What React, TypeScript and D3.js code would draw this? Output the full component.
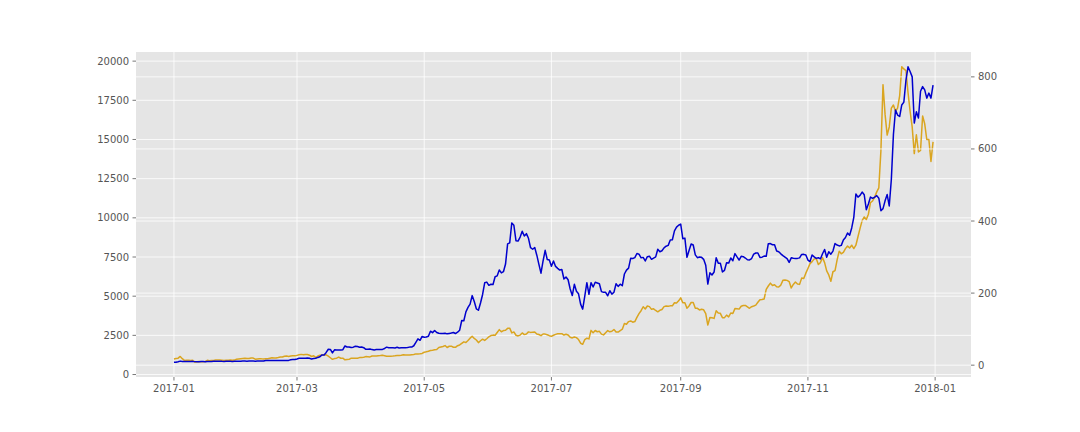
import React from "react";
import * as d3 from "d3";

// Daily closes, 2017-01-01 .. 2017-12-31
const START_DATE = "2017-01-01";

// Left axis series (orange)
const btcJan = [998,1021,1043,1154,1013,902,909,911,902,907,785,812,827,818,822,831,907,886,899,896,923,925,921,916,892,915,918,920,914,921,970];
const btcFeb = [989,1009,1030,1040,1016,1025,1051,1052,977,995,1012,1001,998,1009,1010,1039,1064,1057,1057,1085,1117,1120,1171,1177,1150,1179,1196,1191];
const btcMar = [1223,1258,1286,1264,1274,1278,1234,1151,1193,1098,1180,1234,1244,1246,1256,1172,1072,970,1017,1044,1115,1039,1041,939,964,967,1045,1046,1039,1037,1080];
const btcApr = [1089,1099,1143,1133,1124,1182,1190,1181,1205,1208,1223,1203,1169,1168,1170,1180,1193,1211,1218,1231,1257,1252,1250,1247,1265,1281,1317,1317,1321,1347];
const btcMay = [1421,1452,1490,1537,1555,1578,1596,1723,1755,1787,1848,1724,1804,1808,1739,1734,1839,1888,1987,2084,2041,2173,2320,2443,2304,2202,2038,2155,2255,2175,2286];
const btcJun = [2407,2488,2515,2511,2686,2863,2732,2805,2823,2947,2958,2659,2717,2506,2464,2518,2655,2548,2589,2721,2689,2706,2712,2589,2553,2480,2589,2579,2535,2480];
const btcJul = [2434,2506,2564,2601,2601,2608,2518,2571,2518,2373,2337,2398,2357,2233,1998,1929,2229,2318,2274,2817,2668,2810,2731,2755,2576,2530,2671,2809,2726,2758,2875];
const btcAug = [2718,2710,2805,2895,3252,3213,3378,3419,3342,3381,3651,3884,4073,4325,4181,4376,4331,4160,4193,4087,4001,4100,4151,4334,4371,4352,4382,4382,4579,4565,4703];
const btcSep = [4892,4578,4582,4236,4376,4597,4599,4228,4226,4122,4162,4130,3882,3154,3637,3625,3582,4065,3924,3905,3631,3630,3792,3682,3926,3892,4208,4195,4174,4360];
const btcOct = [4403,4409,4317,4229,4328,4370,4426,4610,4773,4782,4820,5430,5650,5833,5678,5725,5605,5590,5709,6011,6031,6008,5930,5527,5750,5904,5780,5753,6153,6130,6468];
const btcNov = [6767,7078,7207,7379,7407,7022,7144,7459,7143,6618,6357,5950,6559,6635,7315,7871,7708,7790,8036,8200,8071,8253,8038,8253,8790,9330,9819,10058,9888,10233];
const btcDec = [10975,11074,11323,11657,11916,14291,18500,16600,15280,15800,17000,17200,16800,17000,17800,19640,19500,19400,18000,16800,15800,14100,15300,14200,14300,16500,16000,15000,15000,13600,14850];

// Right axis series (blue)
const ethJan = [8.17,8.38,9.73,11.25,10.25,10.25,9.86,10.29,10.31,10.55,9.84,9.79,9.78,9.88,9.86,9.6,10.16,10.5,10.36,10.66,10.95,10.78,10.81,10.54,10.53,10.57,10.54,10.59,10.52,10.62,10.71];
const ethFeb = [10.74,10.74,11.38,11.3,11.1,11.33,11.46,11.36,11.16,11.39,11.45,11.4,11.39,13.15,13.03,12.94,12.76,12.77,12.72,12.62,12.76,12.7,13.12,13.14,13.27,15.03,15.65,15.88];
const ethMar = [17.3,19.0,19.4,18.9,19.4,19.9,19.3,16.9,18.3,19.3,21.5,23.5,28.5,28.5,35.4,44.1,43.8,33.9,42.5,42.2,42.2,41.8,43.0,53.3,50.5,50.6,48.8,50.0,52.6,52.0,49.9];
const ethApr = [50.6,48.5,44.1,44.4,45.1,43.2,42.3,43.3,43.8,43.7,43.7,46.4,50.0,48.1,48.3,48.3,47.8,49.6,47.9,48.5,48.6,48.3,49.0,50.1,50.3,53.9,63.3,72.9,69.0,79.8];
const ethMay = [77.5,78.0,80.3,94.3,90.3,96.0,90.5,88.4,88.2,87.8,88.7,86.9,88.0,89.2,90.7,87.8,91.4,97.1,124.0,123.3,148.0,160.4,169.5,193.0,176.8,156.4,152.4,172.6,196.2,228.6,230.5];
const ethJun = [221.5,224.5,224.0,245.2,247.8,264.3,255.9,259.4,280.6,336.6,339.3,394.7,388.0,345.5,344.3,355.4,371.4,358.5,365.0,352.0,325.9,321.7,326.6,305.2,279.9,255.3,289.1,318.6,293.2,291.6];
const ethJul = [274.4,289.1,274.0,268.7,263.9,265.5,239.2,244.6,237.1,211.4,193.2,224.5,205.0,198.1,169.3,155.4,191.3,228.8,196.8,228.9,217.0,230.2,228.1,225.9,204.1,202.1,202.3,192.5,206.7,197.2,202.5];
const ethAug = [225.9,218.6,224.6,220.4,253.0,263.8,269.3,296.5,296.0,298.3,309.9,307.9,298.0,299.1,289.1,301.0,302.5,293.7,297.2,300.4,321.6,314.8,317.5,325.6,330.1,332.4,347.6,347.9,372.7,383.0,388.3];
const ethSep = [391.4,351.0,352.5,299.2,318.0,336.1,333.4,306.1,298.3,299.9,299.2,293.6,277.3,224.9,256.3,250.1,258.4,297.8,283.1,283.1,258.7,263.2,284.0,283.2,297.3,289.6,309.5,300.4,291.8,302.0];
const ethOct = [301.1,297.3,292.6,292.1,295.9,308.1,311.3,311.2,299.0,299.6,302.7,302.0,337.2,337.4,334.2,334.3,316.7,314.8,308.9,303.8,299.8,295.9,285.0,297.8,296.4,296.3,296.3,297.7,307.3,307.5,305.9];
const ethNov = [291.7,287.4,305.7,300.5,296.3,298.3,294.7,309.1,320.9,299.3,314.7,307.9,316.7,337.6,333.4,330.9,332.4,347.6,354.4,366.7,360.4,380.7,410.2,474.9,466.3,471.3,480.4,472.9,431.5,447.1];
const ethDec = [466.5,463.0,465.9,470.5,463.3,428.6,434.4,456.0,473.5,441.7,515.1,640,708,694,690,722,730,790,828,815,800,672,703,686,760,773,764,741,755,741,777];

const leftTicks = [0, 2500, 5000, 7500, 10000, 12500, 15000, 17500, 20000];
const rightTicks = [0, 200, 400, 600, 800];
const xTickLabels = ["2017-01", "2017-03", "2017-05", "2017-07", "2017-09", "2017-11", "2018-01"];

const btc = [...btcJan, ...btcFeb, ...btcMar, ...btcApr, ...btcMay, ...btcJun, ...btcJul, ...btcAug, ...btcSep, ...btcOct, ...btcNov, ...btcDec];
const eth = [...ethJan, ...ethFeb, ...ethMar, ...ethApr, ...ethMay, ...ethJun, ...ethJul, ...ethAug, ...ethSep, ...ethOct, ...ethNov, ...ethDec];

const W = 1080;
const H = 432;
const PL = 136, PR = 971, PT = 52, PB = 377;
const DAY = 86400000;

function pad(ext: [number, number]): [number, number] {
  const m = (ext[1] - ext[0]) * 0.05;
  return [ext[0] - m, ext[1] + m];
}

export default function App() {
  const start = new Date(START_DATE + "T00:00:00Z").getTime();
  const dates = btc.map((_, i) => new Date(start + i * DAY));
  const tExt: [number, number] = [dates[0].getTime(), dates[dates.length - 1].getTime()];
  const tDom = pad(tExt);
  const x = d3.scaleUtc().domain([new Date(tDom[0]), new Date(tDom[1])]).range([PL, PR]);
  const yL = d3.scaleLinear().domain(pad(d3.extent(btc) as [number, number])).range([PB, PT]);
  const yR = d3.scaleLinear().domain(pad(d3.extent(eth) as [number, number])).range([PB, PT]);

  const lineL = d3.line<number>().x((_, i) => x(dates[i])).y((d) => yL(d));
  const lineR = d3.line<number>().x((_, i) => x(dates[i])).y((d) => yR(d));

  const xTickDates = xTickLabels.map((s) => new Date(s + "-01T00:00:00Z"));
  const font = "'DejaVu Sans', sans-serif";
  const tickColor = "#555555";

  return (
    <div style={{ position: "fixed", left: 0, top: 0 }}>
      <svg width={W} height={H} style={{ display: "block", background: "#ffffff" }}>
        <rect x={PL} y={PT} width={PR - PL} height={PB - PT} fill="#E5E5E5" />
        {/* left axis grid */}
        {leftTicks.map((t) => (
          <line key={"gl" + t} x1={PL} x2={PR} y1={yL(t)} y2={yL(t)} stroke="#ffffff" strokeWidth={0.8} />
        ))}
        {xTickDates.map((d, i) => (
          <line key={"gx" + i} x1={x(d)} x2={x(d)} y1={PT} y2={PB} stroke="#ffffff" strokeWidth={0.8} />
        ))}
        <path d={lineL(btc) || ""} fill="none" stroke="#DAA520" strokeWidth={1.5} strokeLinejoin="round" />
        {/* right axis grid */}
        {rightTicks.map((t) => (
          <line key={"gr" + t} x1={PL} x2={PR} y1={yR(t)} y2={yR(t)} stroke="#ffffff" strokeWidth={0.8} />
        ))}
        <path d={lineR(eth) || ""} fill="none" stroke="#0000CD" strokeWidth={1.5} strokeLinejoin="round" />

        {/* x axis ticks */}
        {xTickDates.map((d, i) => (
          <g key={"xt" + i}>
            <line x1={x(d)} x2={x(d)} y1={PB} y2={PB + 3.5} stroke={tickColor} strokeWidth={0.8} />
            <text x={x(d)} y={PB + 7} dy="0.76em" textAnchor="middle" fontFamily={font} fontSize={10} fill={tickColor}>
              {xTickLabels[i]}
            </text>
          </g>
        ))}
        {/* left ticks */}
        {leftTicks.map((t) => (
          <g key={"lt" + t}>
            <line x1={PL - 3.5} x2={PL} y1={yL(t)} y2={yL(t)} stroke={tickColor} strokeWidth={0.8} />
            <text x={PL - 7} y={yL(t)} dy="0.35em" textAnchor="end" fontFamily={font} fontSize={10} fill={tickColor}>
              {String(t)}
            </text>
          </g>
        ))}
        {/* right ticks */}
        {rightTicks.map((t) => (
          <g key={"rt" + t}>
            <line x1={PR} x2={PR + 3.5} y1={yR(t)} y2={yR(t)} stroke={tickColor} strokeWidth={0.8} />
            <text x={PR + 7} y={yR(t)} dy="0.35em" textAnchor="start" fontFamily={font} fontSize={10} fill={tickColor}>
              {String(t)}
            </text>
          </g>
        ))}
      </svg>
    </div>
  );
}
